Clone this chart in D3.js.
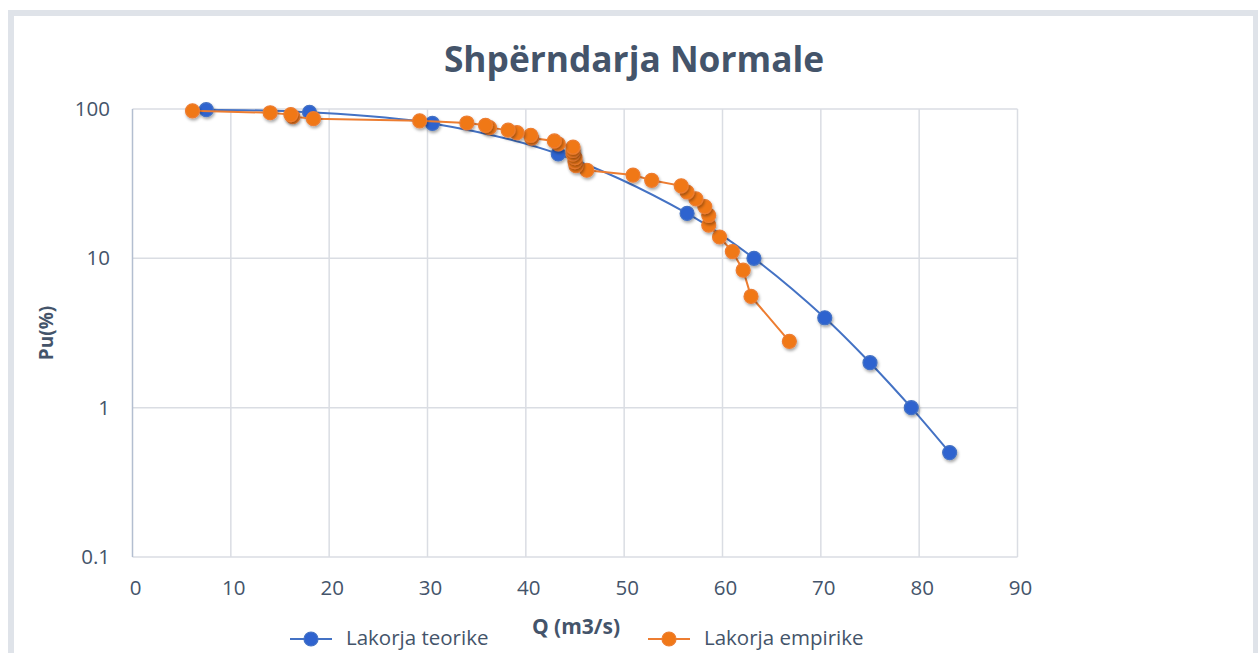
<!DOCTYPE html>
<html>
<head>
<meta charset="utf-8">
<script src="https://cdn.jsdelivr.net/npm/d3@7"></script>
<style>
    html, body { margin: 0; padding: 0; background: #fff; overflow: hidden; }
    text { font-family: "Open Sans", "Noto Sans", sans-serif; fill: #44546a; }
</style>
</head>
<body>
<div id="chart"></div>
<script>
// Lakorja teorike (shperndarja normale)
const teorikeQ = [7.5, 18.0, 30.5, 43.3, 56.4, 63.2, 70.4, 75.0, 79.2, 83.1];
const teorikeP = [99, 95, 80, 50, 20, 10, 4, 2, 1, 0.5];

// Lakorja empirike
const empirikeQ = [66.8, 62.9, 62.1, 61.0, 59.7, 58.6, 58.6, 58.2, 57.3, 56.4, 55.8, 52.8,
    50.9, 46.2, 45.1, 45.0, 45.0, 44.8, 44.8, 44.8, 43.3, 42.9, 40.6, 40.5, 39.1, 38.2,
    36.3, 35.9, 34.0, 29.2, 18.4, 16.3, 16.1, 14.0, 6.1];
const empirikeP = [2.78, 5.56, 8.33, 11.1, 13.9, 16.7, 19.4, 22.2, 25.0, 27.8, 30.6, 33.3,
    36.1, 38.9, 41.7, 44.4, 47.2, 50.0, 52.8, 55.6, 58.3, 61.1, 63.9, 66.7, 69.4, 72.2,
    75.0, 77.8, 80.6, 83.3, 86.1, 88.9, 91.7, 94.4, 97.2];

const xTicks = [0, 10, 20, 30, 40, 50, 60, 70, 80, 90];
const yTicks = [0.1, 1, 10, 100];

const width = 1258;
const height = 653;
const margin = { top: 109, right: 240, bottom: 96, left: 132.5 };

const svg = d3.select("#chart")
    .append("svg")
    .attr("width", width)
    .attr("height", height);

const defs = svg.append("defs");
const shadow = defs.append("filter")
    .attr("id", "shadow")
    .attr("x", "-50%").attr("y", "-50%")
    .attr("width", "200%").attr("height", "200%");
shadow.append("feDropShadow")
    .attr("dx", 1).attr("dy", 2)
    .attr("stdDeviation", 1.5)
    .attr("flood-color", "#000")
    .attr("flood-opacity", 0.35);

// chart frame
svg.append("rect")
    .attr("x", 11).attr("y", 13)
    .attr("width", 1245).attr("height", 700)
    .attr("fill", "none")
    .attr("stroke", "#dfe3e9")
    .attr("stroke-width", 6);

const x = d3.scaleLinear()
    .domain([0, 90])
    .range([margin.left, 1017.5]);

const y = d3.scaleLog()
    .domain([0.1, 100])
    .range([557, margin.top]);

// gridlines
svg.append("g")
    .selectAll("line")
    .data(xTicks.slice(1))
    .enter()
    .append("line")
    .attr("x1", d => x(d)).attr("x2", d => x(d))
    .attr("y1", y(100)).attr("y2", y(0.1))
    .attr("stroke", "#dadde3")
    .attr("stroke-width", 1.5);

svg.append("g")
    .selectAll("line")
    .data(yTicks)
    .enter()
    .append("line")
    .attr("x1", x(0)).attr("x2", x(90))
    .attr("y1", d => y(d)).attr("y2", d => y(d))
    .attr("stroke", "#dadde3")
    .attr("stroke-width", 1.5);

// darker line at 1 %
svg.append("line")
    .attr("x1", x(4.4)).attr("x2", x(84.7))
    .attr("y1", y(1)).attr("y2", y(1))
    .attr("stroke", "#b5b9c1")
    .attr("stroke-width", 2.4)
    .attr("filter", "url(#shadow)");

// left axis line
svg.append("line")
    .attr("x1", x(0)).attr("x2", x(0))
    .attr("y1", y(100)).attr("y2", y(0.1))
    .attr("stroke", "#b3bed0")
    .attr("stroke-width", 1.5);

// tick labels
svg.append("g")
    .selectAll("text")
    .data(xTicks)
    .enter()
    .append("text")
    .attr("x", d => x(d) + 3)
    .attr("y", 595)
    .attr("text-anchor", "middle")
    .style("font-size", "20.5px")
    .text(d => d);

svg.append("g")
    .selectAll("text")
    .data(yTicks)
    .enter()
    .append("text")
    .attr("x", 110)
    .attr("y", d => y(d) + 7)
    .attr("text-anchor", "end")
    .style("font-size", "20.5px")
    .text(d => d);

// titles
svg.append("text")
    .attr("x", 634)
    .attr("y", 72)
    .attr("text-anchor", "middle")
    .style("font-size", "35.3px")
    .style("font-weight", "bold")
    .text("Shpërndarja Normale");

svg.append("text")
    .attr("transform", "translate(53,333) rotate(-90)")
    .attr("text-anchor", "middle")
    .style("font-size", "19px")
    .style("font-weight", "bold")
    .text("Pu(%)");

svg.append("text")
    .attr("x", 576)
    .attr("y", 634)
    .attr("text-anchor", "middle")
    .style("font-size", "21px")
    .style("font-weight", "bold")
    .text("Q (m3/s)");

// series
const teorike = teorikeQ.map((q, i) => ({ q: q, p: teorikeP[i] }));
const empirike = empirikeQ.map((q, i) => ({ q: q, p: empirikeP[i] }));

const series = [
    { name: "Lakorja teorike", data: teorike, line: "#4472c4", fill: "#2f63cf", curve: d3.curveCatmullRom.alpha(0.5), lx: 290 },
    { name: "Lakorja empirike", data: empirike, line: "#ed7d31", fill: "#f07818", curve: d3.curveLinear, lx: 648 }
];

series.forEach(s => {
    const line = d3.line()
        .x(d => x(d.q))
        .y(d => y(d.p))
        .curve(s.curve);

    svg.append("path")
        .datum(s.data)
        .attr("d", line)
        .attr("fill", "none")
        .attr("stroke", s.line)
        .attr("stroke-width", 2);

    svg.append("g")
        .selectAll("circle")
        .data(s.data)
        .enter()
        .append("circle")
        .attr("cx", d => x(d.q))
        .attr("cy", d => y(d.p))
        .attr("r", 7)
        .attr("fill", s.fill)
        .attr("stroke", s.line)
        .attr("stroke-width", 1.2)
        .attr("filter", "url(#shadow)");

    // legend
    const lg = svg.append("g");
    lg.append("line")
        .attr("x1", s.lx).attr("x2", s.lx + 42)
        .attr("y1", 639).attr("y2", 639)
        .attr("stroke", s.line)
        .attr("stroke-width", 2);
    lg.append("circle")
        .attr("cx", s.lx + 21).attr("cy", 639)
        .attr("r", 7)
        .attr("fill", s.fill)
        .attr("stroke", s.line)
        .attr("stroke-width", 1.2);
    lg.append("text")
        .attr("x", s.lx + 56)
        .attr("y", 645)
        .style("font-size", "20.5px")
        .text(s.name);
});
</script>
</body>
</html>
